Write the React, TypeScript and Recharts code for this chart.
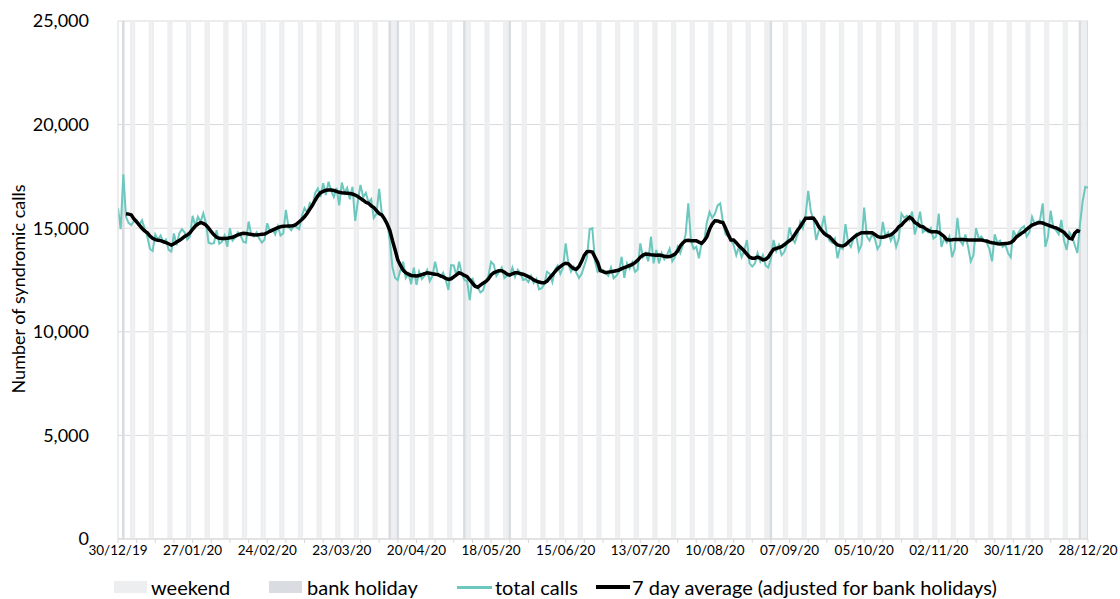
import React from 'react';
import { ComposedChart, Bar, Line, XAxis, YAxis, CartesianGrid, Legend } from 'recharts';

// Day 0 = Monday 30/12/2019, day 364 = Monday 28/12/2020
const xTickLabels = [
  '30/12/19', '27/01/20', '24/02/20', '23/03/20', '20/04/20', '18/05/20', '15/06/20',
  '13/07/20', '10/08/20', '07/09/20', '05/10/20', '02/11/20', '30/11/20', '28/12/20',
];
const xLabelDays = [0, 28, 56, 84, 112, 140, 168, 196, 224, 252, 280, 308, 336, 364];
const yTicks = [0, 5000, 10000, 15000, 20000, 25000];
const shadeTop = 25000;
// bank holidays (day index): 1 Jan, Good Fri, Easter Mon, VE day, Spring, Summer, Christmas, Boxing (sub)
const bankHolidayDays = [2, 102, 105, 130, 147, 245, 361, 364];

// total calls, one row per week (Mon..Sun)
const totalCalls = [
  15970, 14950, 17600, 15550, 15250, 15150, 15350,
  15400, 15150, 15380, 14990, 14600, 14000, 13900,
  14700, 14450, 14650, 14300, 14450, 13950, 13870,
  14750, 14170, 14750, 14950, 14800, 14450, 14600,
  15600, 15100, 15550, 15300, 15720, 15250, 14300,
  14250, 14280, 14900, 14250, 14350, 14650, 14100,
  15000, 14400, 14550, 14800, 14650, 14350, 14300,
  15320, 14700, 14600, 14800, 14500, 14300, 14450,
  15240, 14850, 14950, 14700, 15100, 14650, 14750,
  15880, 15050, 14900, 15150, 15050, 14950, 15600,
  15970, 15750, 16210, 16100, 16700, 16920, 16500,
  17170, 16600, 17240, 16800, 16500, 16950, 16100,
  17200, 16700, 16950, 16400, 17000, 15350, 16300,
  17090, 16500, 16700, 16250, 16400, 15500, 15700,
  16900, 15700, 15400, 15300, 14400, 13100, 12600,
  12500, 13000, 13380, 12600, 12800, 12300, 13100,
  12260, 12900, 12550, 12700, 12980, 12450, 12700,
  13380, 12800, 12650, 12850, 12500, 12020, 13220,
  13200, 12700, 13380, 12800, 12500, 12450, 11530,
  12600, 12200, 12150, 11900, 12000, 12450, 12700,
  13380, 13250, 12700, 12900, 13100, 12600, 12700,
  12700, 13100, 12650, 13000, 12850, 12500, 12550,
  12400, 12700, 12350, 12550, 12050, 12100, 12300,
  12900, 12800, 12400, 13000, 13200, 12800, 13100,
  14270, 13300, 12900, 13150, 12850, 12600, 12800,
  13200, 13600, 14950, 15000, 13400, 12900, 13000,
  12980, 12850, 12700, 13100, 12580, 12700, 12900,
  13620, 12600, 13300, 13050, 13350, 12900, 13000,
  14270, 13600, 13800, 13400, 14600, 13300, 13950,
  13300, 13800, 13500, 13700, 14010, 13400, 13600,
  14100, 13800, 14200, 14700, 16200, 14400, 14000,
  14100, 13550, 14300, 14400, 15300, 15780, 15500,
  15700, 16100, 16200, 15300, 14700, 14600, 14430,
  14200, 13700, 14100, 13600, 13900, 14430, 13300,
  13150, 13300, 13800, 13400, 13700, 13200, 13100,
  13500, 14430, 13900, 14200, 13700, 13850, 14200,
  15040, 14500, 14300, 14700, 15300, 15000, 15600,
  16800, 15800, 15400, 14430, 14900, 15000, 15600,
  14700, 14400, 14300, 14500, 13550, 14100, 14000,
  15200, 14300, 14100, 14500, 14700, 13900, 14200,
  16000, 14600, 14400, 14700, 14500, 14000, 14200,
  15300, 14600, 14800, 14400, 14700, 14100, 14500,
  15700, 15500, 15600, 15400, 15800, 14700, 15200,
  15800, 14800, 14900, 14800, 15000, 14500, 14600,
  15700, 14100, 14500, 14300, 14600, 13600, 14000,
  15500, 14400, 14200, 14700, 14100, 13400, 13700,
  15000, 14500, 14600, 14400, 14300, 14000, 13400,
  14700, 14300, 14400, 14100, 14200, 13800, 13600,
  14900, 14600, 14800, 15000, 15100, 14600, 14800,
  15550, 15200, 15300, 15400, 16200, 14100, 14600,
  15850, 15000, 14900, 14700, 15400, 14400, 13950,
  14800, 14600, 14200, 13800, 15200, 16300, 17000,
  16950,
];

// 7 day average (adjusted for bank holidays)
const sevenDayAvg = [
  null, null, null, 15700, 15680, 15640, 15450,
  15300, 15150, 15000, 14870, 14780, 14620, 14510,
  14450, 14420, 14400, 14350, 14300, 14250, 14190,
  14250, 14330, 14400, 14500, 14600, 14670, 14780,
  14950, 15100, 15200, 15270, 15230, 15150, 15000,
  14830, 14680, 14560, 14510, 14500, 14500, 14510,
  14540, 14560, 14620, 14680, 14720, 14750, 14740,
  14720, 14700, 14680, 14670, 14690, 14710, 14720,
  14780, 14850, 14910, 14970, 15030, 15070, 15090,
  15100, 15110, 15110, 15130, 15200, 15310, 15420,
  15550, 15720, 15920, 16120, 16350, 16560, 16720,
  16780, 16830, 16840, 16840, 16820, 16780, 16730,
  16710, 16700, 16690, 16670, 16650, 16600, 16530,
  16440, 16350, 16250, 16200, 16080, 16000, 15850,
  15700, 15640, 15450, 15200, 14900, 14400, 13950,
  13470, 13200, 12980, 12850, 12780, 12720, 12700,
  12690, 12720, 12760, 12800, 12850, 12830, 12800,
  12780, 12760, 12700, 12650, 12580, 12530, 12560,
  12650, 12750, 12850, 12800, 12720, 12660, 12500,
  12350, 12200, 12150, 12250, 12350, 12420, 12550,
  12740, 12850, 12900, 12950, 12950, 12880, 12780,
  12740, 12800, 12850, 12850, 12800, 12780, 12720,
  12660, 12600, 12500, 12450, 12400, 12370, 12370,
  12450, 12600, 12750, 12900, 13050, 13150, 13250,
  13310, 13280, 13150, 13050, 13020, 13150, 13400,
  13700, 13870, 13880, 13850, 13600, 13350, 12950,
  12900, 12850, 12880, 12900, 12920, 12950, 12980,
  13050, 13100, 13150, 13200, 13250, 13340, 13450,
  13600, 13700, 13750, 13740, 13720, 13710, 13700,
  13710, 13680, 13650, 13620, 13630, 13680, 13750,
  13900, 14140, 14300, 14400, 14420, 14400, 14400,
  14400, 14330, 14270, 14400, 14590, 14950, 15200,
  15360, 15350, 15300, 15270, 15000, 14700, 14430,
  14430, 14300, 14150, 14030, 13900, 13750, 13600,
  13550, 13550, 13600, 13560, 13470, 13500, 13600,
  13800, 13980, 14020, 14060, 14110, 14200, 14300,
  14400, 14500, 14700, 14900, 15070, 15280, 15480,
  15480, 15490, 15480, 15300, 15070, 14900, 14750,
  14650, 14590, 14450, 14300, 14190, 14160, 14140,
  14200, 14320, 14430, 14550, 14650, 14720, 14780,
  14780, 14790, 14780, 14780, 14700, 14600, 14560,
  14560, 14600, 14640, 14680, 14780, 14900, 15070,
  15150, 15300, 15420, 15530, 15450, 15280, 15200,
  15100, 15070, 14980, 14900, 14830, 14830, 14830,
  14800, 14700, 14600, 14450, 14430, 14440, 14460,
  14460, 14450, 14450, 14440, 14430, 14430, 14430,
  14430, 14430, 14430, 14400, 14380, 14330, 14300,
  14280, 14250, 14240, 14250, 14260, 14270, 14300,
  14400, 14560, 14650, 14750, 14830, 14950, 15050,
  15150, 15200, 15250, 15270, 15250, 15200, 15150,
  15100, 15050, 15020, 14950, 14880, 14800, 14650,
  14520, 14480, 14750, 14880, 14830, null, null,
  null,
];

const weekTicks = totalCalls.map((_, i) => i).filter((d) => d % 7 === 0);

const data = totalCalls.map((total, day) => {
  const isBH = bankHolidayDays.includes(day);
  const isWeekend = day % 7 === 5 || day % 7 === 6;
  return {
    day,
    total,
    avg: sevenDayAvg[day],
    weekend: isWeekend && !isBH ? shadeTop : null,
    bankHoliday: isBH ? shadeTop : null,
  };
});

const FONT = 'Lato, "Open Sans", sans-serif';
const WEEKEND = '#EDEEF0';
const BANKHOL = '#D9DCE1';
const CYAN = '#6CC8BE';
const GRID = '#D9D9D9';

const XTick = (props: any) => {
  const { x, y, payload } = props;
  const idx = xLabelDays.indexOf(payload.value);
  if (idx < 0) return null;
  return (
    <text x={x} y={y} dy={10} textAnchor="middle" fontSize={13.5} fill="#000" fontFamily={FONT}>
      {xTickLabels[idx]}
    </text>
  );
};

const YTitle = (props: any) => {
  const vb = props.viewBox || { x: 0, y: 0, width: 0, height: 0 };
  const cx = vb.x + 18;
  const cy = vb.y + vb.height / 2 + 9;
  return (
    <text
      x={cx}
      y={cy}
      transform={`rotate(-90, ${cx}, ${cy})`}
      textAnchor="middle"
      dominantBaseline="central"
      fontSize={18}
      fill="#000"
      fontFamily={FONT}
    >
      Number of syndromic calls
    </text>
  );
};

const legendText: React.CSSProperties = {
  position: 'absolute',
  top: 12,
  height: 24,
  lineHeight: '24px',
  fontSize: 20,
  fontFamily: FONT,
  color: '#000',
  whiteSpace: 'nowrap',
};

const CustomLegend = () => (
  <div style={{ position: 'relative', width: 1120, height: 36 }}>
    <div style={{ position: 'absolute', left: 114, top: 18, width: 33, height: 12, background: WEEKEND }} />
    <div style={{ ...legendText, left: 151 }}>weekend</div>
    <div style={{ position: 'absolute', left: 269, top: 18, width: 33, height: 12, background: BANKHOL }} />
    <div style={{ ...legendText, left: 307 }}>bank holiday</div>
    <div style={{ position: 'absolute', left: 457, top: 23, width: 35, height: 2.5, background: CYAN }} />
    <div style={{ ...legendText, left: 495 }}>total calls</div>
    <div style={{ position: 'absolute', left: 596, top: 22, width: 34, height: 3.5, background: '#000' }} />
    <div style={{ ...legendText, left: 632 }}>7 day average (adjusted for bank holidays)</div>
  </div>
);

export default function App() {
  return (
    <div style={{ position: 'absolute', left: 0, top: 0, width: 1120, height: 599, background: '#fff', fontFamily: FONT }}>
      <ComposedChart
        width={1120}
        height={599}
        data={data}
        margin={{ top: 21, right: 32, bottom: 0, left: 0 }}
      >
        <CartesianGrid vertical={false} stroke={GRID} strokeWidth={1} />
        <XAxis
          dataKey="day"
          type="number"
          domain={[0, 364]}
          ticks={weekTicks}
          interval={0}
          height={24}
          tickSize={4}
          tickMargin={2}
          axisLine={{ stroke: GRID }}
          tickLine={{ stroke: GRID }}
          tick={<XTick />}
          allowDataOverflow
        />
        <YAxis
          type="number"
          domain={[0, 25000]}
          ticks={yTicks}
          width={118}
          axisLine={{ stroke: GRID }}
          tickLine={false}
          tickSize={6}
          tickMargin={23}
          tick={{ fontSize: 18, fill: '#000', fontFamily: FONT }}
          tickFormatter={(v: number) => v.toLocaleString('en-GB')}
          label={<YTitle />}
        />
        <Legend
          verticalAlign="bottom"
          align="left"
          content={<CustomLegend />}
          wrapperStyle={{ left: 0, bottom: 0, width: 1120, height: 36 }}
        />
        <Bar dataKey="weekend" name="weekend" stackId="shade" fill={WEEKEND} barSize={2.6} isAnimationActive={false} />
        <Bar dataKey="bankHoliday" name="bank holiday" stackId="shade" fill={BANKHOL} barSize={2.6} isAnimationActive={false} />
        <Line
          dataKey="total"
          name="total calls"
          type="linear"
          stroke={CYAN}
          strokeWidth={2}
          dot={false}
          activeDot={false}
          isAnimationActive={false}
        />
        <Line
          dataKey="avg"
          name="7 day average (adjusted for bank holidays)"
          type="linear"
          stroke="#000"
          strokeWidth={3.5}
          dot={false}
          activeDot={false}
          isAnimationActive={false}
        />
      </ComposedChart>
    </div>
  );
}
